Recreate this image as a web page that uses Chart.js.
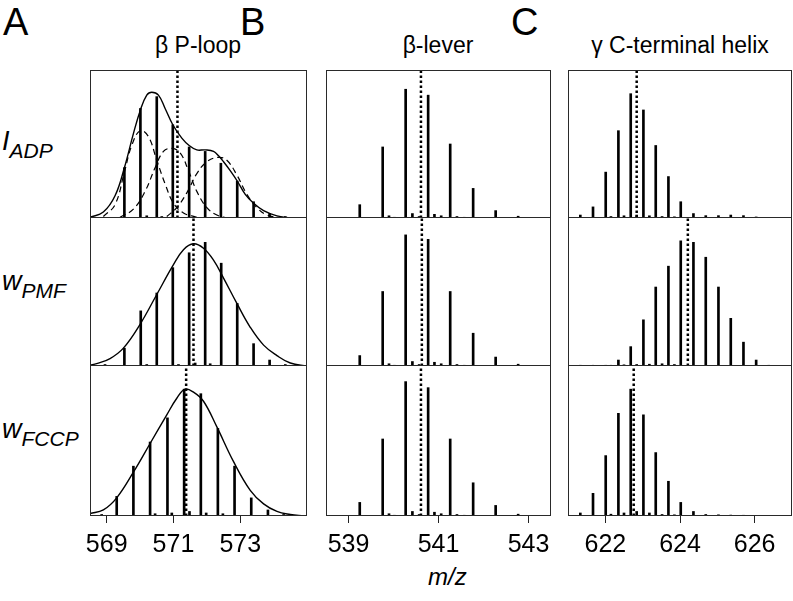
<!DOCTYPE html>
<html>
<head>
<meta charset="utf-8">
<script src="https://cdn.jsdelivr.net/npm/chart.js@4.4.1/dist/chart.umd.min.js"></script>
<style>
body { margin: 0; background: #fff; width: 793px; height: 601px; position: relative; overflow: hidden; font-family: "Liberation Sans", Arial, sans-serif; color: #000; }
canvas { position: absolute; }
.t { position: absolute; white-space: nowrap; line-height: 1; }
.letter { font-size: 38px; }
.title { font-size: 23px; transform: translateX(-50%); }
.lab { font-size: 27px; font-style: italic; }
.lab span { font-size: 21px; position: relative; top: 8px; }
</style>
</head>
<body>
<div class="t letter" style="left:3px;top:3px">A</div>
<div class="t letter" style="left:240px;top:3px">B</div>
<div class="t letter" style="left:511px;top:3px">C</div>
<div class="t title" style="left:198px;top:34px">β P-loop</div>
<div class="t title" style="left:438px;top:34px">β-lever</div>
<div class="t title" style="left:680px;top:34px">γ C-terminal helix</div>
<div class="t lab" style="left:2px;top:128px">I<span>ADP</span></div>
<div class="t lab" style="left:2px;top:268px">w<span>PMF</span></div>
<div class="t lab" style="left:2px;top:416px">w<span>FCCP</span></div>
<div class="t" style="left:428px;top:565px;font-size:24px;font-style:italic">m/z</div>

<canvas id="a1"></canvas><canvas id="a2"></canvas><canvas id="a3"></canvas>
<canvas id="b1"></canvas><canvas id="b2"></canvas><canvas id="b3"></canvas>
<canvas id="c1"></canvas><canvas id="c2"></canvas><canvas id="c3"></canvas>

<script>
// ---- data: isotope peaks (m/z, relative height of panel) ----
// beta P-loop
const mzA1 = [569.53, 570.01, 570.20, 570.50, 570.65, 570.98, 571.47, 571.95, 572.42, 572.91, 573.40, 573.88, 574.35];
const hA1  = [0.34, 0.74, 0.015, 0.82, 0.01, 0.63, 0.48, 0.45, 0.37, 0.25, 0.11, 0.03, 0.01];
const mzA2 = [568.95, 569.53, 570.02, 570.20, 570.50, 570.98, 571.15, 571.47, 571.65, 571.95, 572.10, 572.43, 572.91, 573.40, 573.88, 574.35];
const hA2  = [0.01, 0.12, 0.37, 0.01, 0.49, 0.66, 0.01, 0.76, 0.02, 0.83, 0.015, 0.69, 0.42, 0.15, 0.04, 0.01];
const mzA3 = [568.85, 569.30, 569.80, 570.30, 570.45, 570.82, 570.95, 571.32, 571.48, 571.82, 571.98, 572.33, 572.48, 572.83, 573.33, 573.83, 574.3];
const hA3  = [0.01, 0.13, 0.33, 0.49, 0.015, 0.65, 0.02, 0.84, 0.03, 0.81, 0.02, 0.58, 0.015, 0.33, 0.12, 0.04, 0.01];

// fitted envelopes and components
const envA1x = [568.50, 568.90, 569.25, 569.53, 569.80, 570.01, 570.20, 570.35, 570.55, 570.75, 570.98, 571.25, 571.47, 571.70, 571.95, 572.20, 572.35, 572.50, 572.70, 572.91, 573.15, 573.40, 573.70, 574.10, 574.50];
const envA1y = [0.005, 0.04, 0.15, 0.34, 0.57, 0.73, 0.83, 0.85, 0.83, 0.74, 0.63, 0.54, 0.49, 0.46, 0.46, 0.45, 0.42, 0.38, 0.32, 0.25, 0.16, 0.10, 0.05, 0.014, 0.0];
const fit1x = [568.9, 569.25, 569.53, 569.75, 570.0, 570.25, 570.5, 570.75, 571.0, 571.3, 571.7];
const fit1y = [0.01, 0.09, 0.31, 0.49, 0.59, 0.55, 0.39, 0.23, 0.10, 0.034, 0.005];
const fit2x = [569.4, 569.8, 570.15, 570.45, 570.7, 570.95, 571.2, 571.45, 571.7, 572.0, 572.3, 572.6];
const fit2y = [0.005, 0.06, 0.18, 0.34, 0.45, 0.47, 0.44, 0.32, 0.18, 0.07, 0.02, 0.0];
const fit3x = [570.8, 571.1, 571.4, 571.7, 572.0, 572.35, 572.6, 572.9, 573.2, 573.5, 573.8, 574.2];
const fit3y = [0.01, 0.07, 0.17, 0.30, 0.38, 0.41, 0.39, 0.29, 0.16, 0.07, 0.02, 0.0];
const envA2x = [568.5, 568.7, 569.1, 569.5, 570.0, 570.5, 571.0, 571.3, 571.6, 571.9, 572.2, 572.5, 572.9, 573.3, 573.7, 574.1, 574.5, 575.0];
const envA2y = [0.005, 0.016, 0.05, 0.12, 0.28, 0.48, 0.68, 0.78, 0.82, 0.79, 0.71, 0.59, 0.42, 0.26, 0.14, 0.07, 0.02, 0.0];
const envA3x = [568.5, 568.9, 569.3, 569.8, 570.3, 570.8, 571.1, 571.35, 571.6, 571.9, 572.3, 572.8, 573.3, 573.7, 574.1, 574.5, 574.9];
const envA3y = [0.016, 0.04, 0.12, 0.29, 0.48, 0.67, 0.78, 0.84, 0.82, 0.76, 0.59, 0.36, 0.17, 0.08, 0.03, 0.01, 0.0];

// beta-lever
const mzB = [539.25, 539.76, 539.90, 540.02, 540.27, 540.42, 540.57, 540.77, 540.91, 541.06, 541.26, 541.41, 541.57, 541.77, 542.27, 542.77, 543.28];
const hB1 = [0.09, 0.48, 0.015, 0.005, 0.87, 0.03, 0.01, 0.83, 0.025, 0.015, 0.50, 0.01, 0.005, 0.20, 0.05, 0.012, 0.004];
const hB2 = [0.07, 0.50, 0.015, 0.005, 0.88, 0.03, 0.01, 0.85, 0.025, 0.015, 0.50, 0.01, 0.005, 0.22, 0.06, 0.012, 0.004];
const hB3 = [0.09, 0.51, 0.015, 0.005, 0.89, 0.03, 0.01, 0.85, 0.025, 0.015, 0.51, 0.01, 0.005, 0.22, 0.07, 0.012, 0.004];

// gamma C-terminal helix
const mzC = [621.33, 621.67, 622.01, 622.35, 622.68, 623.02, 623.35, 623.69, 624.02, 624.36, 624.69, 625.03, 625.36, 625.70, 626.04, 626.38];
const hC1 = [0.02, 0.075, 0.31, 0.59, 0.84, 0.73, 0.49, 0.28, 0.11, 0.03, 0.016, 0.016, 0.02, 0.016, 0.007, 0.003];
const hC2 = [0.005, 0.005, 0.005, 0.04, 0.13, 0.31, 0.53, 0.67, 0.84, 0.83, 0.73, 0.53, 0.32, 0.16, 0.04, 0.005];
const hC3 = [0.02, 0.15, 0.40, 0.68, 0.84, 0.67, 0.42, 0.23, 0.09, 0.03, 0.01, 0.008, 0.006, 0.005, 0.003, 0.002];
const satC = [622.15, 622.50, 622.84, 623.18, 623.52, 623.85];
const satC1 = [0.01, 0.015, 0.02, 0.015, 0.01, 0.008];
const satC2 = [0.005, 0.008, 0.01, 0.012, 0.015, 0.01];
const satC3 = [0.012, 0.02, 0.03, 0.02, 0.01, 0.008];

// centroid (dotted line) positions
const centA = [571.12, 571.60, 571.38];
const centB = [540.61, 540.63, 540.61];
const centC = [622.84, 624.21, 622.76];

// axis ticks
const ticksA = [569, 571, 573];
const ticksB = [539, 541, 543];
const ticksC = [622, 624, 626];

// ---- layout ----
const cols = {
  a: { left: 90, width: 217, min: 568.5, max: 575.0, ticks: ticksA },
  b: { left: 326, width: 225, min: 538.5, max: 543.5, ticks: ticksB },
  c: { left: 568, width: 224, min: 621.0, max: 627.0, ticks: ticksC }
};
const rowTop = [70, 217, 365];
const rowH = [148, 149, 151];
const axisH = 50;
const side = 24; // room for tick labels that overhang the bottom panels

const pts = (xs, ys) => xs.map((x, i) => ({ x: x, y: ys[i] }));
const concat = (a, b) => a.concat(b);

const frame = {
  id: 'frame',
  afterDraw(chart) {
    const { ctx, chartArea: a } = chart;
    ctx.save();
    ctx.strokeStyle = '#2a2a2a';
    ctx.lineWidth = 1;
    ctx.strokeRect(a.left + 0.5, a.top + 0.5, a.right - a.left - 1, a.bottom - a.top - 1);
    ctx.restore();
  }
};

function curve(xs, ys, dashed) {
  return {
    type: 'line', data: pts(xs, ys), borderColor: '#000',
    borderWidth: dashed ? 1.2 : 1.4, borderDash: dashed ? [6, 4] : [],
    pointRadius: 0, tension: 0.4, fill: false
  };
}

function panel(id, col, row, mz, h, cent, curves) {
  const c = cols[col];
  const bottom = row === 2;
  const pad = bottom ? side : 0;
  const cv = document.getElementById(id);
  const W = c.width + 2 * pad;
  const H = rowH[row] + (bottom ? axisH : 0);
  cv.width = W;
  cv.height = H;
  cv.style.width = W + 'px';
  cv.style.height = H + 'px';
  cv.style.left = (c.left - pad) + 'px';
  cv.style.top = rowTop[row] + 'px';

  const datasets = [
    { type: 'bar', data: pts(mz, h), backgroundColor: '#000', barThickness: 2 },
    { type: 'line', data: [{ x: cent, y: 0 }, { x: cent, y: 1 }], borderColor: '#000',
      borderWidth: 2.5, borderDash: [2.5, 2.5], pointRadius: 0 }
  ].concat(curves);

  const xScale = {
    type: 'linear', min: c.min, max: c.max, offset: false,
    display: bottom,
    grid: { display: true, drawOnChartArea: false, offset: false, tickLength: 7, color: '#000', tickColor: '#222' },
    border: { display: false },
    ticks: { color: '#000', padding: 7, font: { family: '"Liberation Sans", Arial, sans-serif', size: 25 }, maxRotation: 0 },
    afterBuildTicks: s => { s.ticks = c.ticks.map(v => ({ value: v })); }
  };
  if (bottom) {
    xScale.afterFit = s => { s.height = axisH; s.paddingLeft = 0; s.paddingRight = 0; };
  }

  new Chart(cv, {
    type: 'bar',
    data: { datasets: datasets },
    options: {
      responsive: false,
      maintainAspectRatio: false,
      animation: false,
      layout: { padding: { left: pad, right: pad, top: 0, bottom: 0 } },
      plugins: { legend: { display: false }, tooltip: { enabled: false } },
      scales: {
        x: xScale,
        y: { min: 0, max: 1, display: false }
      }
    },
    plugins: [frame]
  });
}

panel('a1', 'a', 0, mzA1, hA1, centA[0], [
  curve(envA1x, envA1y, false), curve(fit1x, fit1y, true), curve(fit2x, fit2y, true), curve(fit3x, fit3y, true)
]);
panel('a2', 'a', 1, mzA2, hA2, centA[1], [curve(envA2x, envA2y, false)]);
panel('a3', 'a', 2, mzA3, hA3, centA[2], [curve(envA3x, envA3y, false)]);

panel('b1', 'b', 0, mzB, hB1, centB[0], []);
panel('b2', 'b', 1, mzB, hB2, centB[1], []);
panel('b3', 'b', 2, mzB, hB3, centB[2], []);

panel('c1', 'c', 0, concat(mzC, satC), concat(hC1, satC1), centC[0], []);
panel('c2', 'c', 1, concat(mzC, satC), concat(hC2, satC2), centC[1], []);
panel('c3', 'c', 2, concat(mzC, satC), concat(hC3, satC3), centC[2], []);
</script>
</body>
</html>
